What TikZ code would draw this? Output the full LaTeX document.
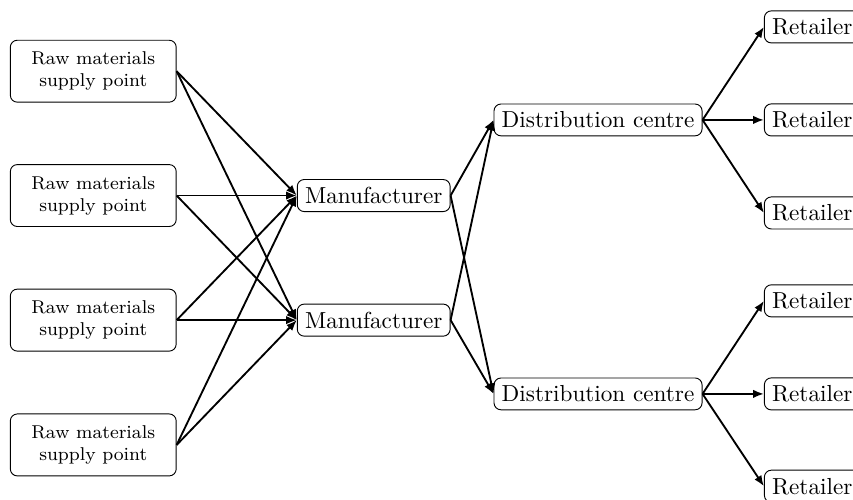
\documentclass[tikz,border=0pt]{standalone}
\usetikzlibrary{arrows.meta}
\begin{document}
\begin{tikzpicture}[x=1pt,y=1pt,
  box/.style={draw, rounded corners=3pt, inner sep=3.33pt},
  rawbox/.style={box, font=\footnotesize, align=center, minimum width=71.5pt, minimum height=26.7pt},
  flow/.style={thick, -{Latex[length=4.6pt,width=3.6pt]}}]
\useasboundingbox (0,0) rectangle (367.7,-215.5);
\node[rawbox] (r1) at (40.2,-30.7) {Raw materials\\supply point};
\node[rawbox] (r2) at (40.2,-84.3) {Raw materials\\supply point};
\node[rawbox] (r3) at (40.2,-138.0) {Raw materials\\supply point};
\node[rawbox] (r4) at (40.2,-191.8) {Raw materials\\supply point};
\node[box] (m1) at (161.1,-84.3) {Manufacturer};
\node[box] (m2) at (161.1,-138.0) {Manufacturer};
\node[box] (d1) at (257.8,-51.7) {Distribution centre};
\node[box] (d2) at (257.8,-169.8) {Distribution centre};
\node[box, anchor=west] (t1) at (329.3,-11.6) {Retailer};
\node[box, anchor=west] (t2) at (329.3,-51.7) {Retailer};
\node[box, anchor=west] (t3) at (329.3,-91.8) {Retailer};
\node[box, anchor=west] (t4) at (329.3,-129.7) {Retailer};
\node[box, anchor=west] (t5) at (329.3,-169.8) {Retailer};
\node[box, anchor=west] (t6) at (329.3,-209.6) {Retailer};
\foreach \r in {r1,r2,r3,r4}{
  \draw[flow] (\r.east) -- (m1.west);
  \draw[flow] (\r.east) -- (m2.west);
}
\foreach \m in {m1,m2}{
  \draw[flow] (\m.east) -- (d1.west);
  \draw[flow] (\m.east) -- (d2.west);
}
\draw[flow] (d1.east) -- (t1.west);
\draw[flow] (d1.east) -- (t2.west);
\draw[flow] (d1.east) -- (t3.west);
\draw[flow] (d2.east) -- (t4.west);
\draw[flow] (d2.east) -- (t5.west);
\draw[flow] (d2.east) -- (t6.west);
\end{tikzpicture}
\end{document}
